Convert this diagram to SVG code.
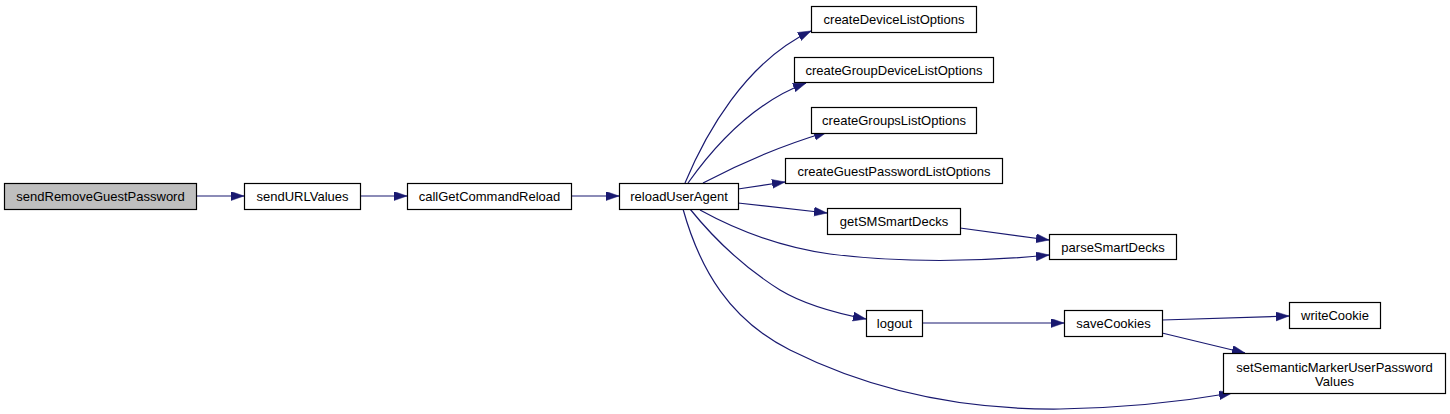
<svg xmlns="http://www.w3.org/2000/svg" width="1450" height="414" viewBox="0 0 1450 414">
<style>
.n rect{fill:#ffffff;stroke:#000000;stroke-width:1.2}
.n text{font-family:"Liberation Sans",Arial,sans-serif;font-size:13px;fill:#000000;text-anchor:middle}
#node1 rect{fill:#bfbfbf}
#edges path{fill:none;stroke:#191970;stroke-width:1.2;marker-end:url(#ah)}
</style>
<defs>
<marker id="ah" markerUnits="userSpaceOnUse" markerWidth="14" markerHeight="10" refX="13" refY="4.5" orient="auto" viewBox="0 0 14 10">
<path d="M0,0 L13,4.5 L0,9 Z" fill="#191970" stroke="#191970" stroke-width="0.5"/>
</marker>
</defs>
<rect width="1450" height="414" fill="#ffffff"/>
<g id="edges">
<path d="M197,196 L244,196"/>
<path d="M360,196 L407,196"/>
<path d="M571,196 L619,196"/>
<path d="M685,183 C705,135 745,62 811,31"/>
<path d="M688,183 C715,145 755,102 806,83"/>
<path d="M703,183 C735,166 780,146 827,132"/>
<path d="M738,189 L785,182"/>
<path d="M738,203 L827,213"/>
<path d="M700,210 C740,232 780,247 830,254 C900,263 980,262 1049,255"/>
<path d="M960,228 L1049,240"/>
<path d="M690,209 C715,240 745,268 780,290 C805,305 835,313 866,319"/>
<path d="M683,209 C700,270 730,320 790,350 C860,385 950,410 1060,409 C1120,408 1180,402 1232,393"/>
<path d="M922,323 L1064,323"/>
<path d="M1162,320 L1289,316"/>
<path d="M1162,333 L1245,353"/>
</g>
<g id="node1" class="n"><rect x="4.5" y="183.5" width="192" height="26"/><text x="100.5" y="201">sendRemoveGuestPassword</text></g>
<g id="node2" class="n"><rect x="244.5" y="183.5" width="116" height="26"/><text x="302.5" y="201">sendURLValues</text></g>
<g id="node3" class="n"><rect x="407.5" y="183.5" width="164" height="26"/><text x="489.5" y="201">callGetCommandReload</text></g>
<g id="node4" class="n"><rect x="619.5" y="183.5" width="119" height="26"/><text x="679" y="201">reloadUserAgent</text></g>
<g id="node5" class="n"><rect x="811.5" y="6.5" width="165" height="26"/><text x="894" y="24">createDeviceListOptions</text></g>
<g id="node6" class="n"><rect x="794.5" y="57.5" width="199" height="25"/><text x="894" y="74.5">createGroupDeviceListOptions</text></g>
<g id="node7" class="n"><rect x="811.5" y="107.5" width="165" height="26"/><text x="894" y="125">createGroupsListOptions</text></g>
<g id="node8" class="n"><rect x="785.5" y="158.5" width="217" height="25"/><text x="894" y="175.5">createGuestPasswordListOptions</text></g>
<g id="node9" class="n"><rect x="827.5" y="208.5" width="133" height="26"/><text x="894" y="226">getSMSmartDecks</text></g>
<g id="node10" class="n"><rect x="1049.5" y="234.5" width="127" height="25"/><text x="1113" y="251.5">parseSmartDecks</text></g>
<g id="node11" class="n"><rect x="866.5" y="310.5" width="56" height="26"/><text x="894.5" y="328">logout</text></g>
<g id="node12" class="n"><rect x="1064.5" y="310.5" width="98" height="26"/><text x="1113.5" y="328">saveCookies</text></g>
<g id="node13" class="n"><rect x="1289.5" y="302.5" width="91" height="26"/><text x="1335" y="320">writeCookie</text></g>
<g id="node14" class="n"><rect x="1223.5" y="353.5" width="222" height="40"/><text x="1334.5" y="372">setSemanticMarkerUserPassword</text><text x="1334.5" y="386">Values</text></g>
</svg>
